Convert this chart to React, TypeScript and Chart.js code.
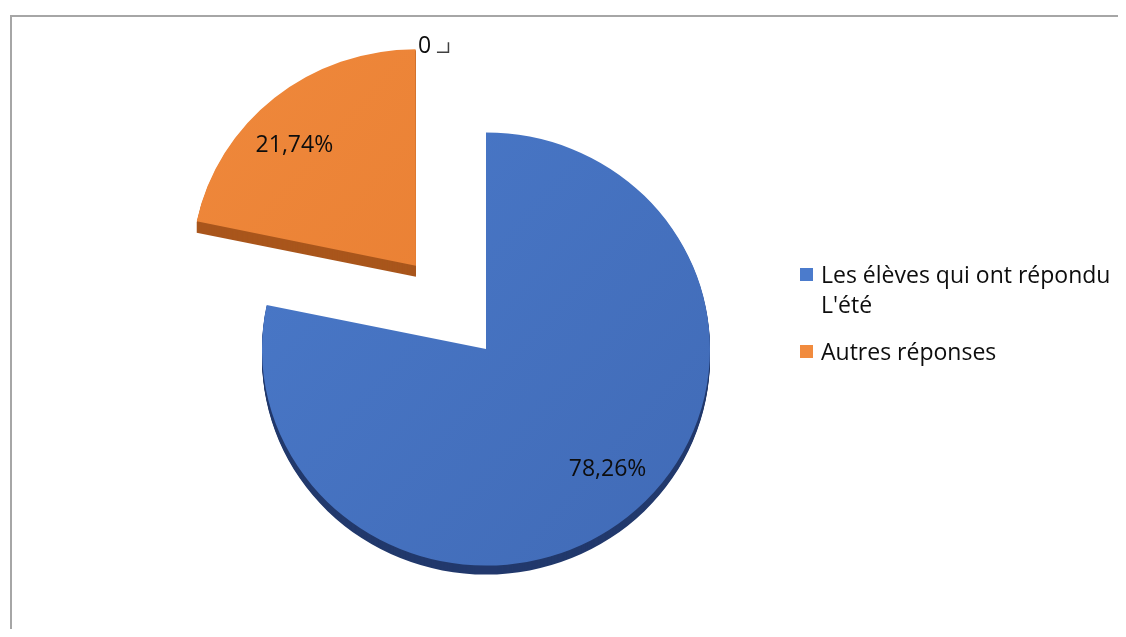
import React, { useEffect, useRef } from 'react';
import { Chart, registerables } from 'chart.js';

Chart.register(...registerables);

// ---- data ----
const categories = ["Les élèves qui ont répondu L'été", 'Autres réponses'];
const values = [78.26, 21.74];
const valueLabels = ['78,26%', '21,74%'];
const strayLabel = '0';

// ---- style ----
const faceColors = [
  ['#4B7BCC', '#3F68B3'],
  ['#F18B3E', '#E4782C'],
];
const sideColors = ['#22396C', '#A9561C'];
const explodeOffsets = [0, 444]; // Chart.js arc offset (translates by offset/4)
const FONT = '"Open Sans", "Noto Sans", sans-serif';
const FONT_SIZE = 23;
const SCALE_Y = 0.967;
const DEPTH = 9;
const RADIUS = 224;
const W = 1110;
const H = 621;

function arcGeom(el: any) {
  const off = (el.options.offset || 0) / 4;
  const mid = (el.startAngle + el.endAngle) / 2;
  const fix = 1 - Math.sin(Math.min(Math.PI, el.circumference || 0));
  return {
    ox: el.x + Math.cos(mid) * off,
    oy: el.y + Math.sin(mid) * off,
    r: el.outerRadius + off * fix,
    mid,
    fix,
    off,
  };
}

const pie3d = {
  id: 'pie3d',
  afterDatasetsUpdate(chart: any) {
    const meta = chart.getDatasetMeta(0);
    meta.data.forEach((el: any) => {
      const off = (el.options.offset || 0) / 4;
      const fix = 1 - Math.sin(Math.min(Math.PI, el.circumference || 0));
      el.outerRadius = el.outerRadius - off * fix;
    });
  },
  beforeDatasetsDraw(chart: any) {
    const ctx = chart.ctx;
    const meta = chart.getDatasetMeta(0);
    const first = meta.data[0];
    const cx = first.x;
    const cy = first.y;
    ctx.save();
    ctx.translate(cx, cy);
    ctx.scale(1, SCALE_Y);
    ctx.translate(-cx, -cy);
    meta.data.forEach((el: any, i: number) => {
      const g = arcGeom(el);
      ctx.fillStyle = sideColors[i];
      const depth = i === 0 ? DEPTH : DEPTH + 2;
      for (let d = depth; d >= 1; d--) {
        const dy = d / SCALE_Y;
        ctx.beginPath();
        ctx.moveTo(g.ox, g.oy + dy);
        ctx.arc(g.ox, g.oy + dy, g.r, el.startAngle, el.endAngle);
        ctx.closePath();
        ctx.fill();
      }
    });
  },
  afterDatasetsDraw(chart: any) {
    const ctx = chart.ctx;
    ctx.restore();
    const meta = chart.getDatasetMeta(0);
    const first = meta.data[0];
    const cy = first.y;
    ctx.save();
    ctx.font = `${FONT_SIZE}px ${FONT}`;
    ctx.fillStyle = '#0d0d0d';
    ctx.textAlign = 'center';
    ctx.textBaseline = 'middle';
    meta.data.forEach((el: any, i: number) => {
      const g = arcGeom(el);
      const sx = g.ox;
      const sy = cy + (g.oy - cy) * SCALE_Y;
      const lx = sx + Math.cos(g.mid) * g.r * 0.86;
      const ly = sy + Math.sin(g.mid) * g.r * SCALE_Y * 0.715;
      ctx.fillText(valueLabels[i], lx, ly);
    });
    // stray zero label at the end corner of the exploded slice
    const last = meta.data[meta.data.length - 1];
    const g = arcGeom(last);
    const sx = g.ox + Math.cos(last.endAngle) * g.r;
    const sy = cy + (g.oy - cy) * SCALE_Y + Math.sin(last.endAngle) * g.r * SCALE_Y;
    ctx.textAlign = 'left';
    ctx.fillText(strayLabel, sx + 2, sy - 3);
    ctx.strokeStyle = '#404040';
    ctx.lineWidth = 1.5;
    ctx.beginPath();
    ctx.moveTo(sx + 21, sy + 3);
    ctx.lineTo(sx + 32.5, sy + 3);
    ctx.lineTo(sx + 32.5, sy - 7);
    ctx.stroke();
    ctx.restore();
  },
};

const customLegend = {
  id: 'customLegend',
  afterDraw(chart: any) {
    const ctx = chart.ctx;
    const labels: string[] = chart.data.labels;
    const x0 = 792;
    const textX = 813;
    const maxW = 300;
    const lineH = 30;
    let baseline = 275;
    ctx.save();
    ctx.font = `${FONT_SIZE}px ${FONT}`;
    ctx.textBaseline = 'alphabetic';
    ctx.textAlign = 'left';
    labels.forEach((label, i) => {
      const words = label.split(' ');
      const lines: string[] = [];
      let cur = '';
      words.forEach((w) => {
        const t = cur ? cur + ' ' + w : w;
        if (ctx.measureText(t).width > maxW && cur) {
          lines.push(cur);
          cur = w;
        } else cur = t;
      });
      if (cur) lines.push(cur);
      ctx.fillStyle = faceColors[i][0];
      ctx.fillRect(x0, baseline - 15, 13, 13);
      ctx.fillStyle = '#0d0d0d';
      lines.forEach((ln, k) => ctx.fillText(ln, textX, baseline + k * lineH));
      baseline += lines.length * lineH + 17;
    });
    ctx.restore();
  },
};

export default function App() {
  const ref = useRef<HTMLCanvasElement | null>(null);
  useEffect(() => {
    if (!ref.current) return;
    const chart = new Chart(ref.current, {
      type: 'pie',
      data: {
        labels: categories,
        datasets: [
          {
            data: values,
            backgroundColor: (c: any) => {
              const i = c.dataIndex;
              const chart = c.chart;
              const ca = chart.chartArea;
              if (!ca) return faceColors[i][0];
              const g = chart.ctx.createLinearGradient(ca.left + 150, ca.top, ca.right - 150, ca.bottom);
              g.addColorStop(0, faceColors[i][0]);
              g.addColorStop(1, faceColors[i][1]);
              return g;
            },
            borderWidth: 0,
            offset: explodeOffsets,
            clip: false,
          } as any,
        ],
      },
      options: {
        responsive: false,
        animation: false,
        devicePixelRatio: 1,
        radius: RADIUS,
        layout: { padding: { left: 0, right: 154, top: 61, bottom: 0 } },
        plugins: {
          legend: { display: false },
          tooltip: { enabled: false },
          title: { display: false },
        },
      } as any,
      plugins: [pie3d, customLegend],
    });
    return () => chart.destroy();
  }, []);

  return (
    <div style={{ position: 'relative', width: W, height: H, overflow: 'hidden', background: '#fff' }}>
      <div
        style={{
          position: 'absolute',
          left: 2,
          top: 7,
          width: 1300,
          height: 900,
          borderTop: '2px solid #A6A6A6',
          borderLeft: '2px solid #A6A6A6',
        }}
      />
      <canvas ref={ref} width={W} height={H} style={{ position: 'absolute', left: 0, top: 0, width: W, height: H }} />
    </div>
  );
}
